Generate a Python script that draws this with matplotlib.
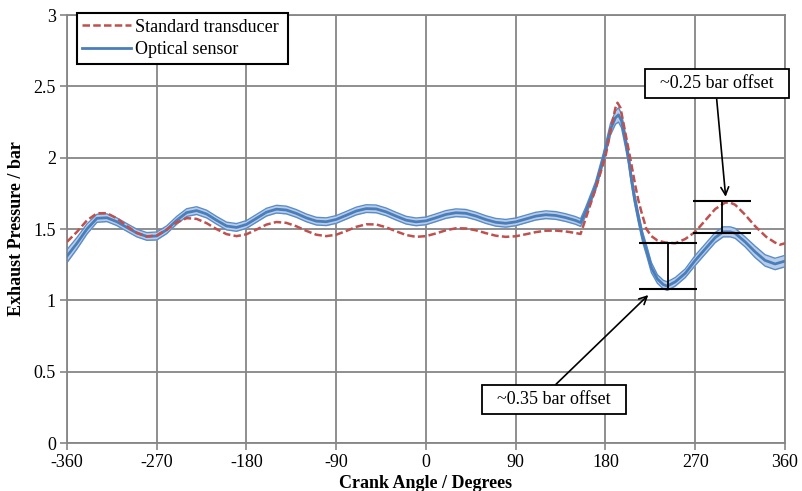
import matplotlib
matplotlib.use('Agg')
import matplotlib.pyplot as plt

plt.rcParams['font.family'] = ['Liberation Serif', 'DejaVu Serif']
plt.rcParams['axes.unicode_minus'] = False

# ---------------- data ----------------
red_angle = [-360, -350, -340, -330, -320, -310, -300, -290, -280, -270, -260, -250, -240, -230,
             -220, -210, -200, -190, -180, -170, -160, -150, -140, -130, -120, -110, -100, -90,
             -80, -70, -60, -50, -40, -30, -20, -10, 0, 10, 20, 30, 40, 50, 60, 70, 80, 90, 100,
             110, 120, 130, 140, 150, 155, 160, 170, 180, 186, 190, 192, 195, 200, 205, 210, 213,
             216, 221, 226, 232, 240, 250, 260, 270, 280, 290, 300, 305, 310, 320, 325, 330, 341,
             350, 355, 360]
red_pressure = [1.41, 1.48, 1.56, 1.61, 1.611, 1.575, 1.521, 1.473, 1.447, 1.455, 1.496, 1.546, 1.576,
                1.571, 1.541, 1.499, 1.464, 1.45, 1.463, 1.496, 1.531, 1.549, 1.543, 1.519, 1.487,
                1.46, 1.45, 1.46, 1.486, 1.515, 1.533, 1.532, 1.512, 1.484, 1.458, 1.445, 1.45,
                1.469, 1.491, 1.505, 1.504, 1.491, 1.471, 1.453, 1.445, 1.449, 1.463, 1.478, 1.488,
                1.489, 1.483, 1.472, 1.465, 1.57, 1.78, 2.01, 2.22, 2.35, 2.385, 2.35, 2.17, 1.99,
                1.80, 1.70, 1.62, 1.50, 1.45, 1.42, 1.405, 1.40, 1.43, 1.48, 1.56, 1.64, 1.685,
                1.685, 1.67, 1.60, 1.56, 1.52, 1.446, 1.405, 1.39, 1.40]

blue_angle = [-360, -350, -340, -330, -320, -310, -300, -290, -280, -270, -260, -250, -240, -230,
              -220, -210, -200, -190, -180, -170, -160, -150, -140, -130, -120, -110, -100, -90,
              -80, -70, -60, -50, -40, -30, -20, -10, 0, 10, 20, 30, 40, 50, 60, 70, 80, 90, 100,
              110, 120, 130, 140, 150, 155, 160, 170, 178, 185, 190, 193, 196, 200, 203, 206, 209,
              213, 217, 222, 226, 232, 238, 242, 250, 260, 270, 280, 290, 298, 305, 310, 320, 330,
              340, 350, 360]
blue_pressure = [1.31, 1.40, 1.50, 1.575, 1.579, 1.551, 1.511, 1.472, 1.448, 1.451, 1.495, 1.561,
                 1.615, 1.629, 1.605, 1.561, 1.521, 1.511, 1.532, 1.575, 1.618, 1.639, 1.633, 1.609,
                 1.578, 1.555, 1.551, 1.567, 1.596, 1.626, 1.643, 1.641, 1.620, 1.590, 1.562, 1.55,
                 1.557, 1.579, 1.602, 1.614, 1.610, 1.591, 1.566, 1.547, 1.54, 1.55, 1.57, 1.59,
                 1.60, 1.595, 1.58, 1.56, 1.545, 1.62, 1.80, 2.00, 2.20, 2.28, 2.30, 2.26, 2.12,
                 2.00, 1.85, 1.72, 1.58, 1.45, 1.33, 1.23, 1.15, 1.11, 1.10, 1.13, 1.19, 1.28,
                 1.36, 1.44, 1.48, 1.48, 1.47, 1.41, 1.34, 1.28, 1.255, 1.275]
blue_spread = [0.045, 0.04, 0.035, 0.028, 0.027, 0.027, 0.027, 0.027, 0.027, 0.028, 0.027, 0.027,
               0.027, 0.027, 0.027, 0.027, 0.027, 0.027, 0.027, 0.027, 0.027, 0.027, 0.027, 0.027,
               0.027, 0.027, 0.027, 0.027, 0.027, 0.027, 0.027, 0.027, 0.027, 0.027, 0.027, 0.027,
               0.027, 0.027, 0.027, 0.027, 0.027, 0.027, 0.027, 0.027, 0.027, 0.027, 0.027, 0.027,
               0.027, 0.027, 0.027, 0.027, 0.027, 0.03, 0.03, 0.035, 0.04, 0.045, 0.05, 0.05,
               0.045, 0.04, 0.035, 0.035, 0.035, 0.035, 0.035, 0.035, 0.03, 0.03, 0.03, 0.03,
               0.03, 0.035, 0.035, 0.035, 0.035, 0.035, 0.035, 0.035, 0.04, 0.04, 0.04, 0.04]

# offset markers (error-bar style) : angle, lower, upper
offset_angle = [242.2, 297.3]
offset_low = [1.082, 1.474]
offset_high = [1.40, 1.698]

x_ticks = [-360, -270, -180, -90, 0, 90, 180, 270, 360]
y_ticks = [0, 0.5, 1, 1.5, 2, 2.5, 3]
y_tick_labels = ['0', '0.5', '1', '1.5', '2', '2.5', '3']

# ---------------- figure ----------------
fig = plt.figure(figsize=(8.03, 4.91), dpi=100)
ax = fig.add_axes([67 / 803, 1 - 443 / 491, 718 / 803, 428 / 491])

grid_col = '#868686'
blue = '#4a7ebb'
red = '#c0504d'

blue_hi = [m + s for m, s in zip(blue_pressure, blue_spread)]
blue_lo = [m - s for m, s in zip(blue_pressure, blue_spread)]

ax.fill_between(blue_angle, blue_lo, blue_hi, color='#b9cde8', lw=0, zorder=2)
ax.plot(blue_angle, blue_hi, color='#5b8cc8', lw=1.0, zorder=3)
ax.plot(blue_angle, blue_lo, color='#5b8cc8', lw=1.0, zorder=3)
blue_line, = ax.plot(blue_angle, blue_pressure, color=blue, lw=2.0, zorder=4,
                     label='Optical sensor')
red_line, = ax.plot(red_angle, red_pressure, color=red, lw=1.8, ls=(0, (3.0, 1.3)), zorder=5,
                    label='Standard transducer\u00a0')

yerr = [[0, 0], [h - l for h, l in zip(offset_high, offset_low)]]
ax.errorbar(offset_angle, offset_low, yerr=yerr, fmt='none', ecolor='black',
            elinewidth=1.3, capsize=21.1, capthick=1.5, zorder=6)

box = dict(boxstyle='square,pad=0.34', fc='white', ec='black', lw=1.3)
ax.text(291.5, 2.518, '\u00a0\u00a0~0.25 bar offset\u00a0\u00a0', ha='center', va='center',
        fontsize=13, bbox=box, zorder=7)
ax.text(128.4, 0.305, '\u00a0\u00a0~0.35 bar offset\u00a0\u00a0', ha='center', va='center',
        fontsize=13, bbox=box, zorder=7)
arrow = dict(arrowstyle='->', color='black', lw=1.2, shrinkA=0, shrinkB=0, mutation_scale=14)
ax.annotate('', xy=(300.5, 1.726), xytext=(291.5, 2.409), arrowprops=arrow, zorder=7)
ax.annotate('', xy=(222.9, 1.037), xytext=(130.4, 0.412), arrowprops=arrow, zorder=7)

ax.set_xlim(-360, 360)
ax.set_ylim(0, 3)
ax.set_xticks(x_ticks)
ax.set_yticks(y_ticks)
ax.set_yticklabels(y_tick_labels)
ax.tick_params(direction='out', length=5, width=1.2, color=grid_col, labelsize=13,
               labelcolor='black', pad=3)
ax.grid(True, color=grid_col, lw=1.3)
ax.set_axisbelow(True)
for sp in ax.spines.values():
    sp.set_color(grid_col)
    sp.set_linewidth(1.3)

ax.set_xlabel('Crank Angle / Degrees', fontsize=13, fontweight='bold', labelpad=3)
ax.set_ylabel('Exhaust Pressure / bar', fontsize=13, fontweight='bold', labelpad=6)

leg = ax.legend(handles=[red_line, blue_line], loc='upper left', bbox_to_anchor=(0.014, 1.004),
                fontsize=13, frameon=True, fancybox=False, edgecolor='black', framealpha=1,
                borderaxespad=0, handlelength=2.7, handletextpad=0.2, borderpad=0.3,
                labelspacing=0.32)
leg.get_frame().set_linewidth(1.5)
leg.set_zorder(10)

fig.savefig('out.png', dpi=100)
